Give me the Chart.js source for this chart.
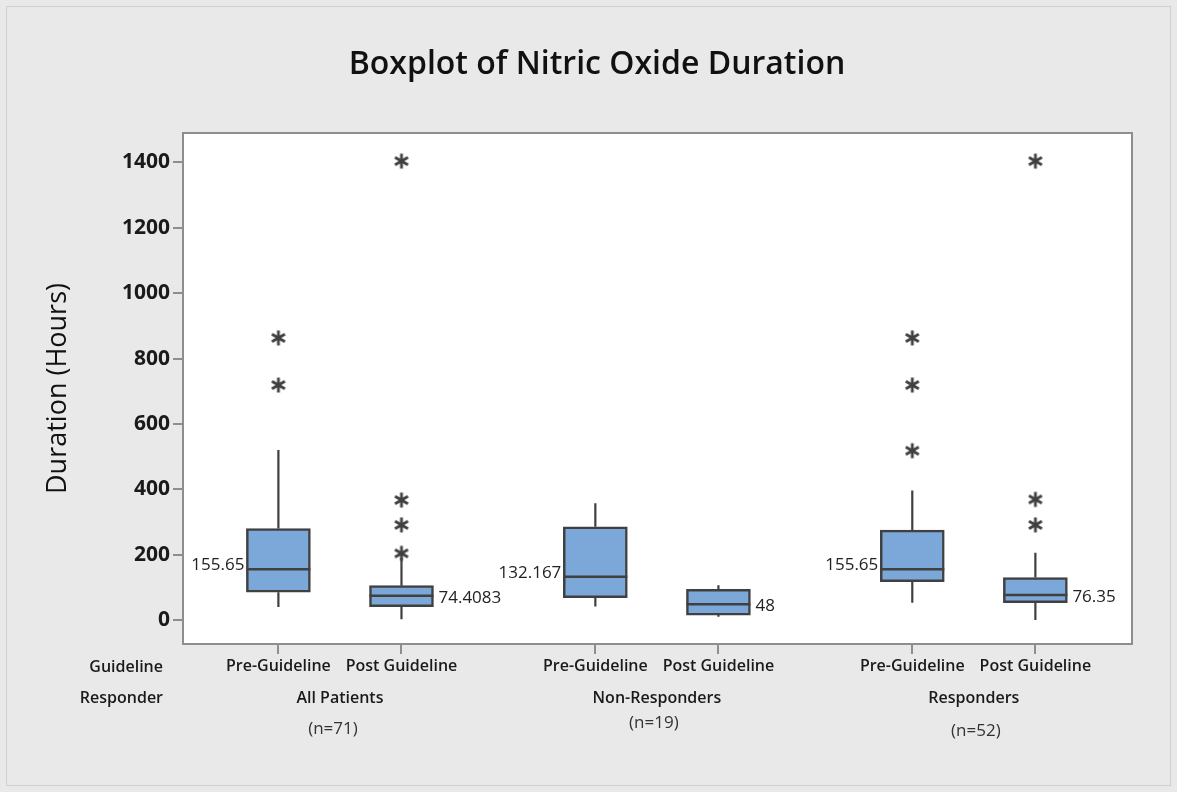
<!DOCTYPE html>
<html>
<head>
<meta charset="utf-8">
<script src="https://cdn.jsdelivr.net/npm/chart.js@4.4.0/dist/chart.umd.min.js"></script>
<style>
  html, body { margin: 0; padding: 0; background: #e9e9e9; }
  .chart-wrapper { position: relative; width: 1177px; height: 792px; }
</style>
</head>
<body>
<div class="chart-wrapper"><canvas id="boxplot"></canvas></div>
<script>
// one entry per box
const guidelines = ["Pre-Guideline", "Post Guideline", "Pre-Guideline", "Post Guideline", "Pre-Guideline", "Post Guideline"];
const whiskerLow = [40, 2, 41, 10, 53, 0];
const q1 = [85, 41, 68, 15, 117, 53];
const medians = [155.65, 74.4083, 132.167, 48, 155.65, 76.35];
const q3 = [280, 105, 285, 94, 275, 130];
const whiskerHigh = [520, 190, 357, 106, 396, 206];
const outliers = [
  [719, 863],
  [204, 291, 367, 1404],
  [],
  [],
  [518, 719, 863],
  [291, 369, 1404],
];
const medianLabels = ["155.65", "74.4083", "132.167", "48", "155.65", "76.35"];

// one entry per group
const responderGroups = ["All Patients", "Non-Responders", "Responders"];
const groupCounts = ["(n=71)", "(n=19)", "(n=52)"];

const yTicks = [0, 200, 400, 600, 800, 1000, 1200, 1400];

const FONT = "'Open Sans', 'Noto Sans', sans-serif";
const INK = "#404040";
const AXIS = "#8e8e8e";

// boxes: two per group, wider gap between groups
const groupStep = 2.575;
const positions = guidelines.map((_, i) => 1 + Math.floor(i / 2) * groupStep + (i % 2));

const boxData = positions.map((p, i) => ({ x: p, y: [q1[i], q3[i]] }));
const outlierData = [];
outliers.forEach((list, i) => list.forEach((v) => outlierData.push({ x: positions[i], y: v })));

// six-armed asterisk used for outliers
const star = document.createElement("canvas");
star.width = 20;
star.height = 20;
(() => {
  const c = star.getContext("2d");
  c.strokeStyle = INK;
  c.lineWidth = 2.8;
  const r = 7.5;
  [90, 30, 150].forEach((deg) => {
    const a = (deg * Math.PI) / 180;
    c.beginPath();
    c.moveTo(10 - r * Math.cos(a), 10 - r * Math.sin(a));
    c.lineTo(10 + r * Math.cos(a), 10 + r * Math.sin(a));
    c.stroke();
  });
})();

const backdrop = {
  id: "backdrop",
  beforeDraw(chart) {
    const { ctx, chartArea, width, height } = chart;
    ctx.save();
    ctx.fillStyle = "#e9e9e9";
    ctx.fillRect(0, 0, width, height);
    ctx.strokeStyle = "#d0d0d0";
    ctx.lineWidth = 1;
    ctx.strokeRect(6.5, 6.5, width - 13, height - 13);
    ctx.fillStyle = "#ffffff";
    ctx.fillRect(chartArea.left, chartArea.top, chartArea.right - chartArea.left, chartArea.bottom - chartArea.top);
    ctx.restore();
  },
  afterDraw(chart) {
    const { ctx, chartArea } = chart;
    ctx.save();
    ctx.strokeStyle = AXIS;
    ctx.lineWidth = 2;
    ctx.strokeRect(chartArea.left, chartArea.top, chartArea.right - chartArea.left, chartArea.bottom - chartArea.top);
    ctx.restore();
  },
};

const boxParts = {
  id: "boxParts",
  afterDatasetsDraw(chart) {
    const { ctx, scales: { x, y } } = chart;
    const bars = chart.getDatasetMeta(0).data;
    ctx.save();
    ctx.strokeStyle = INK;
    ctx.lineWidth = 2.2;
    bars.forEach((bar, i) => {
      const cx = x.getPixelForValue(positions[i]);
      const half = bar.width / 2;

      ctx.beginPath();
      ctx.moveTo(cx, y.getPixelForValue(q3[i]));
      ctx.lineTo(cx, y.getPixelForValue(whiskerHigh[i]));
      ctx.moveTo(cx, y.getPixelForValue(q1[i]));
      ctx.lineTo(cx, y.getPixelForValue(whiskerLow[i]));
      ctx.stroke();

      const my = y.getPixelForValue(medians[i]);
      ctx.save();
      ctx.lineWidth = 2.5;
      ctx.beginPath();
      ctx.moveTo(cx - half, my);
      ctx.lineTo(cx + half, my);
      ctx.stroke();
      ctx.restore();

      ctx.fillStyle = "#222";
      ctx.font = `17px ${FONT}`;
      ctx.textBaseline = "middle";
      if (i % 2 === 0) {
        ctx.textAlign = "right";
        ctx.fillText(medianLabels[i], cx - half - 2, my - 4);
      } else {
        ctx.textAlign = "left";
        ctx.fillText(medianLabels[i], cx + half + 5, my + 2);
      }
    });
    ctx.restore();
  },
  afterDraw(chart) {
    const { ctx, scales: { x } } = chart;
    ctx.save();
    ctx.textBaseline = "middle";
    ctx.fillStyle = "#1a1a1a";
    ctx.font = `600 16px ${FONT}`;
    ctx.textAlign = "right";
    ctx.fillText("Guideline", 163, 667);
    ctx.fillText("Responder", 163, 698);

    ctx.textAlign = "center";
    responderGroups.forEach((name, g) => {
      const cx = x.getPixelForValue((positions[g * 2] + positions[g * 2 + 1]) / 2);
      ctx.font = `600 16px ${FONT}`;
      ctx.fillStyle = "#1a1a1a";
      ctx.fillText(name, cx, 698);
      ctx.font = `17px ${FONT}`;
      ctx.fillStyle = "#333";
      const shift = [-7, -3, 2][g];
      const lift = [729, 723, 731][g];
      ctx.fillText(groupCounts[g], cx + shift, lift);
    });
    ctx.restore();
  },
};

new Chart(document.getElementById("boxplot"), {
  type: "bar",
  data: {
    datasets: [
      {
        type: "bar",
        data: boxData,
        backgroundColor: "#7ba7d9",
        borderColor: INK,
        borderWidth: 2.5,
        borderSkipped: false,
        barThickness: 64,
      },
      {
        type: "scatter",
        data: outlierData,
        pointStyle: star,
        showLine: false,
      },
    ],
  },
  options: {
    responsive: true,
    maintainAspectRatio: false,
    animation: false,
    events: [],
    layout: {
      padding: { top: 0, right: 0, bottom: 0, left: 17 },
    },
    plugins: {
      legend: { display: false },
      tooltip: { enabled: false },
      title: {
        display: true,
        text: "Boxplot of Nitric Oxide Duration",
        color: "#111",
        font: { family: FONT, size: 32, weight: 600 },
        padding: { top: 46, bottom: 48.6 },
      },
    },
    scales: {
      x: {
        type: "linear",
        min: 0.225,
        max: 7.935,
        offset: false,
        afterBuildTicks(scale) {
          scale.ticks = positions.map((v) => ({ value: v }));
        },
        afterFit(scale) {
          scale.height = 148;
        },
        border: { display: true, color: AXIS, width: 2 },
        grid: {
          offset: false,
          drawOnChartArea: false,
          drawTicks: true,
          tickLength: 10,
          color: AXIS,
          lineWidth: 2,
        },
        ticks: {
          autoSkip: false,
          maxRotation: 0,
          padding: 3,
          color: "#1a1a1a",
          font: { family: FONT, size: 16, weight: 600 },
          callback(value, index) {
            return guidelines[index];
          },
        },
      },
      y: {
        min: -73.4,
        max: 1490,
        afterBuildTicks(scale) {
          scale.ticks = yTicks.map((v) => ({ value: v }));
        },
        afterFit(scale) {
          scale.width = 166;
        },
        border: { display: true, color: AXIS, width: 2 },
        grid: {
          drawOnChartArea: false,
          drawTicks: true,
          tickLength: 10,
          color: AXIS,
          lineWidth: 2,
        },
        ticks: {
          padding: 3,
          color: "#1a1a1a",
          font: { family: FONT, size: 21, weight: 700 },
          callback(value) {
            return String(value);
          },
        },
        title: {
          display: true,
          text: "Duration (Hours)",
          color: "#111",
          font: { family: FONT, size: 27, weight: 500 },
          padding: { top: 25, bottom: 0 },
        },
      },
      // empty strip that keeps the plot frame off the right edge
      yRight: {
        position: "right",
        display: true,
        afterFit(scale) {
          scale.width = 45;
        },
        border: { display: false },
        grid: { display: false },
        ticks: { display: false },
      },
    },
  },
  plugins: [backdrop, boxParts],
});
</script>
</body>
</html>
